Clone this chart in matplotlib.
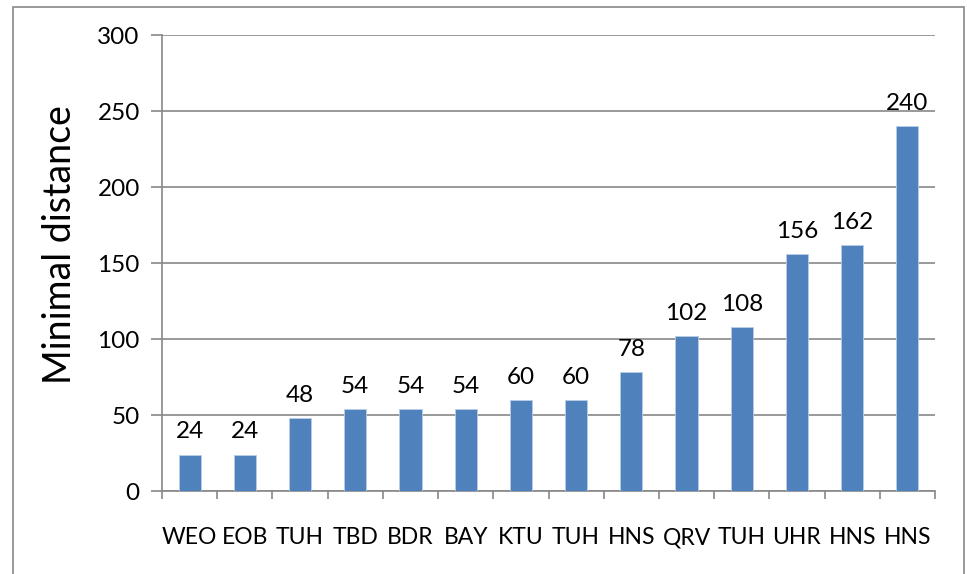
import matplotlib
matplotlib.use("Agg")
import matplotlib.pyplot as plt
from matplotlib.patches import Rectangle

categories = ["WEO", "EOB", "TUH", "TBD", "BDR", "BAY", "KTU", "TUH",
              "HNS", "QRV", "TUH", "UHR", "HNS", "HNS"]
values = [24, 24, 48, 54, 54, 54, 60, 60, 78, 102, 108, 156, 162, 240]
y_ticks = [0, 50, 100, 150, 200, 250, 300]

plt.rcParams["font.family"] = ["Lato", "DejaVu Sans"]

W, H = 967, 574
fig = plt.figure(figsize=(W / 100, H / 100), dpi=100)
ax = fig.add_axes([162 / W, 1 - 491 / H, (935 - 162) / W, (491 - 35) / H])

grid_col = "#878787"
x = list(range(len(categories)))
ax.bar(x, values, width=0.4, color="#4F81BD", edgecolor="#B9CDE5",
       linewidth=0.6, zorder=3)
for xi, v in zip(x, values):
    ax.text(xi, v + 8, str(v), ha="center", va="bottom", fontsize=17.5,
            color="black", zorder=4)

ax.set_xlim(-0.5, len(categories) - 0.5)
ax.set_ylim(0, 300)
ax.set_yticks(y_ticks)
ax.set_yticklabels([str(t) for t in y_ticks], fontsize=17.5)
ax.yaxis.grid(True, color=grid_col, linewidth=1.2, zorder=0)
ax.set_axisbelow(True)

ax.set_xticks(x)
ax.set_xticklabels(categories, fontsize=16.5)
ax.tick_params(axis="x", length=0, pad=26)
ax.set_xticks([i - 0.5 for i in range(len(categories) + 1)], minor=True)
ax.tick_params(axis="x", which="minor", length=6, width=1.2, color=grid_col)
ax.tick_params(axis="y", length=8, width=1.2, color=grid_col, pad=8)

for side in ("top", "right"):
    ax.spines[side].set_visible(False)
for side in ("left", "bottom"):
    ax.spines[side].set_color(grid_col)
    ax.spines[side].set_linewidth(1.2)

fig.text(60 / W, 1 - 245 / H, "Minimal distance", fontsize=27,
         rotation=90, ha="center", va="center")

fig.patches.append(Rectangle((13 / W, -0.05), (964 - 13) / W, 1.05 - 7 / H,
                             transform=fig.transFigure, fill=False,
                             edgecolor="#888888", linewidth=1.2))

fig.savefig("out.png", dpi=100)
